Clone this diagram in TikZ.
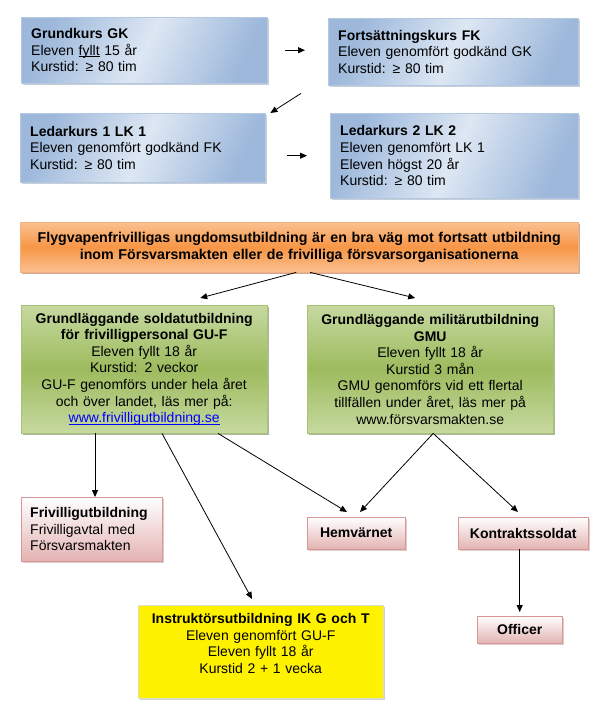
\documentclass[tikz,border=0pt]{standalone}
\usepackage{fontspec}
\setmainfont{Liberation Sans}
\usetikzlibrary{arrows.meta,shadows,calc}
\tikzset{>={Triangle[width=6pt,length=7pt]}}
\definecolor{blueedge}{HTML}{9DB8DB}
\definecolor{bluemid}{HTML}{DDE7F3}
\definecolor{bluedraw}{HTML}{B4C8E2}
\definecolor{blueshadow}{HTML}{8E9DB0}
\definecolor{greenlight}{HTML}{C6D9A0}
\definecolor{greendark}{HTML}{9DBB5E}
\definecolor{greendraw}{HTML}{A9C274}
\definecolor{greenshadow}{HTML}{5D6B45}
\definecolor{orangelight}{HTML}{FAC090}
\definecolor{orangedark}{HTML}{F79646}
\definecolor{orangedraw}{HTML}{F8B07A}
\definecolor{orangeshadow}{HTML}{8E5A34}
\definecolor{pinkdark}{HTML}{E3B3B2}
\definecolor{pinkdraw}{HTML}{D99694}
\definecolor{pinkshadow}{HTML}{B89C9C}
\definecolor{yellowdraw}{HTML}{E0E0C0}
\definecolor{yellowshadow}{HTML}{93A7B6}
\definecolor{linkblue}{HTML}{0000FF}
\newsavebox{\ulbox}
\newcommand{\ULINE}[1]{\sbox{\ulbox}{#1}\rlap{\rule[-1.6pt]{\wd\ulbox}{0.7pt}}\usebox{\ulbox}}
\newcommand{\LINK}[1]{\textcolor{linkblue}{\ULINE{#1}}}

\tikzset{
  box/.style={rectangle, anchor=north west, inner ysep=0pt,
    font=\fontsize{14}{16.6}\selectfont},
  bluebox/.style={box, draw=bluedraw, left color=blueedge, right color=blueedge,
    middle color=bluemid, shading angle=65, align=left, inner xsep=10pt,
    drop shadow={shadow xshift=2pt, shadow yshift=-2pt, fill=blueshadow}},
  greenbox/.style={box, draw=greendraw, top color=greenlight, bottom color=greenlight,
    middle color=greendark, align=center, inner xsep=3pt,
    drop shadow={shadow xshift=2pt, shadow yshift=-2pt, fill=greenshadow}},
  orangebox/.style={box, draw=orangedraw, top color=orangelight, bottom color=orangelight,
    middle color=orangedark, align=center, inner xsep=5pt,
    font=\fontsize{14.2}{16.6}\selectfont\bfseries,
    drop shadow={shadow xshift=2pt, shadow yshift=-2pt, fill=orangeshadow}},
  pinkbox/.style={box, draw=pinkdraw, top color=white, bottom color=pinkdark,
    drop shadow={shadow xshift=2pt, shadow yshift=-2pt, fill=pinkshadow}},
  yellowbox/.style={box, draw=yellowdraw, fill=yellow, align=center, inner xsep=5pt,
    drop shadow={shadow xshift=2pt, shadow yshift=-2pt, fill=yellowshadow}},
  link/.style={->, line width=0.8pt, black}
}

\begin{document}
\begin{tikzpicture}[x=1pt, y=-1pt]
\useasboundingbox (0,0) rectangle (599,726);

% kurser
\node[bluebox, minimum width=246pt, minimum height=66pt, text width=226pt]
  (gk) at (21,17) {\textbf{Grundkurs GK}\\Eleven \ULINE{fyllt} 15 år\\Kurstid: ≥ 80 tim};
\node[bluebox, minimum width=250pt, minimum height=67pt, text width=230pt]
  (fk) at (328,18) {\textbf{Fortsättningskurs FK}\\Eleven genomfört godkänd GK\\Kurstid: ≥ 80 tim};
\node[bluebox, minimum width=245pt, minimum height=69pt, text width=225pt]
  (lk1) at (20,113) {\textbf{Ledarkurs 1 LK 1}\\Eleven genomfört godkänd FK\\Kurstid: ≥ 80 tim};
\node[bluebox, minimum width=248pt, minimum height=85pt, text width=228pt]
  (lk2) at (330,113) {\textbf{Ledarkurs 2 LK 2}\\Eleven genomfört LK 1\\Eleven högst 20 år\\Kurstid: ≥ 80 tim};

% ungdomsutbildning
\node[orangebox, minimum width=558pt, minimum height=50pt, text width=548pt]
  (flyg) at (20,222) {Flygvapenfrivilligas ungdomsutbildning är en bra väg mot fortsatt utbildning\\
  inom Försvarsmakten eller de frivilliga försvarsorganisationerna};

% grundutbildning
\node[greenbox, minimum width=246pt, minimum height=128pt, text width=240pt]
  (guf) at (21,305) {\textbf{Grundläggande soldatutbildning}\\\textbf{för frivilligpersonal GU-F}\\
  Eleven fyllt 18 år\\Kurstid: 2 veckor\\GU-F genomförs under hela året\\
  och över landet, läs mer på:\\\LINK{www.frivilligutbildning.se}};
\node[greenbox, minimum width=246pt, minimum height=128pt, text width=240pt]
  (gmu) at (307,305) {\textbf{Grundläggande militärutbildning}\\\textbf{GMU}\\
  Eleven fyllt 18 år\\Kurstid 3 mån\\GMU genomförs vid ett flertal\\
  tillfällen under året, läs mer på\\www.försvarsmakten.se};

% vidare
\node[pinkbox, align=left, inner xsep=9pt, minimum width=141pt, minimum height=64pt, text width=123pt]
  (friv) at (21,497) {\textbf{Frivilligutbildning}\\Frivilligavtal med\\Försvarsmakten};
\node[pinkbox, minimum width=98pt, minimum height=32pt, font=\fontsize{14}{16.6}\selectfont\bfseries]
  (hemv) at (307,517) {Hemvärnet};
\node[pinkbox, minimum width=130pt, minimum height=32pt, font=\fontsize{14}{16.6}\selectfont\bfseries]
  (kontr) at (458,517) {Kontraktssoldat};
\node[pinkbox, minimum width=85pt, minimum height=27pt, font=\fontsize{14}{16.6}\selectfont\bfseries]
  (off) at (477,616) {Officer};
\node[yellowbox, minimum width=245pt, minimum height=93pt, text width=235pt]
  (ik) at (138,605) {\textbf{Instruktörsutbildning IK G och T}\\Eleven genomfört GU-F\\
  Eleven fyllt 18 år\\Kurstid 2 + 1 vecka\\\mbox{}};

% pilar
\draw[link, shorten <=18pt, shorten >=23pt] (gk.east) -- (gk.east -| fk.west);
\draw[link] ($(fk.south west)+(-27,8)$) -- ($(lk1.north east)+(5,0)$);
\draw[link, shorten <=22pt, shorten >=23pt] (lk2.west -| lk1.east) -- (lk2.west);

\draw[link] ($(flyg.south)+(-3,0)$) -- ($(guf.north)+(56,-7)$);
\draw[link] ($(flyg.south)+(11,0)$) -- ($(gmu.north)+(-15,-7)$);

\draw[link] ($(guf.south west)+(74,0)$) -- ($(friv.north west)+(74,0)$);
\draw[link] ($(guf.south west)+(141,0)$) -- ($(ik.north west)+(114,-6)$);
\draw[link] ($(guf.south west)+(197,0)$) -- ($(hemv.north west)+(40,-5)$);
\draw[link] ($(gmu.south)+(3,0)$) -- ($(hemv.north west)+(53,-5)$);
\draw[link] ($(gmu.south)+(3,0)$) -- ($(kontr.north west)+(60,-5)$);
\draw[link, shorten >=4pt] (kontr.south -| off.north) -- (off.north);
\end{tikzpicture}
\end{document}
